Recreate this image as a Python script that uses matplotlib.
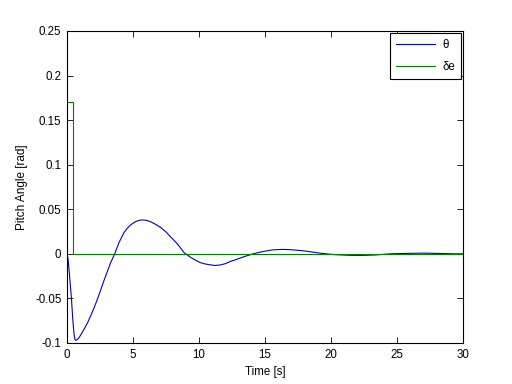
import matplotlib
matplotlib.use("Agg")
import matplotlib.pyplot as plt

# pitch angle response
t_theta = [0.0, 0.08, 0.15, 0.25, 0.33, 0.43, 0.53, 0.6, 0.66, 0.75, 0.91, 1.1,
           1.29, 1.55, 1.79, 2.05, 2.3, 2.55, 2.8, 3.05, 3.31, 3.61, 3.94,
           4.32, 4.57, 4.82, 5.08, 5.33, 5.55, 5.76, 6.05, 6.34, 6.7, 7.1,
           7.5, 7.85, 8.2, 8.48, 8.86, 9.37, 9.7, 10.08, 10.45, 10.83, 11.2,
           11.6, 12.0, 12.35, 12.85, 13.36, 14.1, 14.6, 15.1, 15.6, 16.3,
           16.9, 17.4, 17.9, 18.5, 19.2, 19.8, 20.4, 21.5, 22.3, 23.4, 24.5,
           25.7, 27.0, 28.2, 29.4, 30.0]
theta = [0.0, -0.006, -0.017, -0.035, -0.049, -0.072, -0.09, -0.096, -0.097,
         -0.0965, -0.094, -0.0895, -0.0845, -0.0775, -0.0696, -0.0605,
         -0.051, -0.0405, -0.030, -0.02, -0.0098, 0.0, 0.0127, 0.024,
         0.0287, 0.0325, 0.0352, 0.037, 0.0378, 0.038, 0.0375, 0.036,
         0.0332, 0.0295, 0.0245, 0.019, 0.0138, 0.009, 0.0015, -0.004,
         -0.0068, -0.0098, -0.0113, -0.0123, -0.013, -0.0125, -0.011,
         -0.0087, -0.0062, -0.0034, 0.0, 0.0018, 0.0033, 0.0045, 0.005,
         0.0047, 0.0041, 0.0034, 0.0022, 0.0007, -0.0003, -0.001, -0.0017,
         -0.0018, -0.0012, 0.0, 0.0005, 0.0008, 0.0004, 0.0, 0.0]

# elevator deflection: short pulse then zero
t_delta = [0.0, 0.45, 0.45, 30.0]
delta = [0.17, 0.17, 0.0, 0.0]

y_ticks = [-0.1, -0.05, 0, 0.05, 0.1, 0.15, 0.2, 0.25]
y_labels = ['-0.1', '-0.05', '0', '0.05', '0.1', '0.15', '0.2', '0.25']
x_ticks = [0, 5, 10, 15, 20, 25, 30]

plt.rcParams['font.family'] = ['Liberation Sans', 'DejaVu Sans']
plt.rcParams['font.size'] = 8

fig = plt.figure(figsize=(5.12, 3.84), dpi=100)
ax = fig.add_axes([0.1309, 0.1068, 0.7734, 0.8125])

ax.plot(t_theta, theta, color='#0000c8', linewidth=0.8, label='θ')
ax.plot(t_delta, delta, color='#007f00', linewidth=0.8, label='δe')

ax.set_xlim(0, 30)
ax.set_ylim(-0.1, 0.25)
ax.set_xticks(x_ticks)
ax.set_yticks(y_ticks)
ax.set_yticklabels(y_labels)
ax.tick_params(direction='in', top=True, right=True, length=4, width=0.6,
               labelsize=8.3, pad=4)
for s in ax.spines.values():
    s.set_linewidth(0.8)

ax.set_xlabel('Time [s]', fontsize=8.3, labelpad=4)
ax.set_ylabel('Pitch Angle [rad]', fontsize=8.5, labelpad=5)

leg = ax.legend(loc='upper right', fontsize=8.3, fancybox=False, framealpha=1,
                edgecolor='black', handlelength=3.4, borderaxespad=0.15,
                borderpad=0.55, labelspacing=0.85, handletextpad=0.6)
leg.get_frame().set_linewidth(0.8)

fig.savefig('out.png', dpi=100)
